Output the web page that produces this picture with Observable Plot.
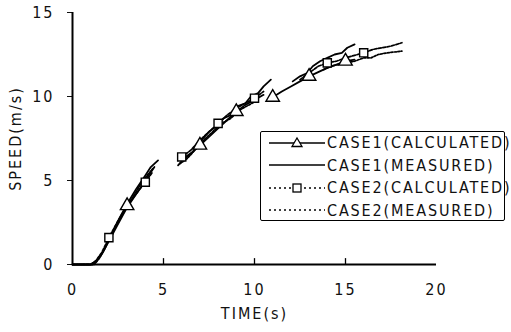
<!DOCTYPE html>
<html><head><meta charset="utf-8">
<script src="https://cdn.jsdelivr.net/npm/d3@7"></script>
<script src="https://cdn.jsdelivr.net/npm/@observablehq/plot@0.6"></script>
<style>
body{margin:0;background:#fff;}
#wrap{position:relative;width:511px;height:332px;}
#wrap svg text{letter-spacing:2px;font-stretch:condensed;}
.f{font-family:"DejaVu Sans Condensed","Liberation Sans Narrow","DejaVu Sans",sans-serif;font-stretch:condensed;}
#legend{position:absolute;left:260px;top:131px;width:245px;height:90px;border:1.5px solid #000;border-radius:2px;background:#fff;box-sizing:border-box;}
#legend .row{position:absolute;left:6px;height:22px;display:flex;align-items:center;font-size:16px;letter-spacing:1.85px;color:#111;}
</style></head>
<body><div id="wrap"></div>
<script>
const xTicks = [0, 5, 10, 15, 20];
const yTicks = [0, 5, 10, 15];
const seriesNames = ["CASE1(CALCULATED)", "CASE1(MEASURED)", "CASE2(CALCULATED)", "CASE2(MEASURED)"];

// [time s, speed m/s, segment]
const case1Calc = [
  [0,0,1],[1,0,1],[1.3,0.2,1],[1.6,0.6,1],[2,1.4,1],[2.5,2.4,1],[3,3.4,1],[3.5,4.2,1],[4,5.0,1],[4.5,5.8,1],
  [6,6.1,2],[6.5,6.6,2],[7,7.1,2],[7.5,7.6,2],[8,8.1,2],[8.5,8.6,2],[9,9.1,2],[9.5,9.5,2],[10,9.8,2],[10.5,10.1,2],
  [11,9.95,3],[11.5,10.3,3],[12,10.6,3],[12.5,10.9,3],[13,11.2,3],[13.5,11.45,3],[14,11.7,3],[14.5,11.9,3],[15,12.1,3],[15.5,12.2,3]
];
const case1Calc_markers = [[3,3.5],[7,7.1],[9,9.1],[11,9.95],[13,11.2],[15,12.1]];

const case1Meas = [
  [0,0,1],[1.1,0,1],[1.4,0.3,1],[1.7,0.8,1],[2,1.5,1],[2.5,2.6,1],[3,3.6,1],[3.5,4.5,1],[4,5.3,1],[4.3,5.8,1],[4.7,6.2,1],
  [5.8,5.9,2],[6.2,6.4,2],[6.6,6.7,2],[7,7.3,2],[7.5,7.9,2],[8,8.3,2],[8.3,8.7,2],[8.7,8.9,2],[9,9.4,2],[9.5,9.6,2],[9.8,10.0,2],[10.2,10.2,2],[10.5,10.6,2],[10.9,11.0,2],
  [12.1,10.9,3],[12.5,11.2,3],[12.9,11.4,3],[13.2,11.8,3],[13.6,12.1,3],[14,12.3,3],[14.4,12.5,3],[14.8,12.6,3],[15.1,12.9,3],[15.5,13.1,3]
];

const case2Calc = [
  [0,0,1],[1,0,1],[1.3,0.25,1],[1.6,0.7,1],[2,1.6,1],[2.5,2.6,1],[3,3.5,1],[3.5,4.2,1],[4,4.9,1],[4.4,5.5,1],
  [6,6.4,2],[6.5,6.8,2],[7,7.4,2],[7.5,7.9,2],[8,8.4,2],[8.5,8.9,2],[9,9.3,2],[9.5,9.6,2],[10,9.9,2],[10.5,10.3,2],
  [12.5,11.0,3],[13,11.4,3],[13.5,11.8,3],[14,12.0,3],[14.5,12.1,3],[15,12.3,3],[15.5,12.45,3],[16,12.6,3],[16.5,12.8,3],[17,12.9,3],[17.5,13.0,3],[18.1,13.2,3]
];
const case2Calc_markers = [[2,1.6],[4,4.9],[6,6.4],[8,8.4],[10,9.9],[14,12.0],[16,12.6]];

const case2Meas = [
  [0,0,1],[1.2,0,1],[1.5,0.4,1],[1.8,1.0,1],[2.2,1.9,1],[2.7,2.9,1],[3.2,3.8,1],[3.7,4.7,1],[4.1,5.3,1],[4.4,5.7,1],
  [5.9,6.0,2],[6.3,6.3,2],[6.8,6.9,2],[7.2,7.4,2],[7.7,7.9,2],[8.2,8.4,2],[8.7,8.7,2],[9.2,9.2,2],[9.7,9.5,2],[10.2,9.8,2],
  [13.8,11.6,3],[14.2,11.8,3],[14.6,11.9,3],[15,12.0,3],[15.5,12.1,3],[16,12.3,3],[16.4,12.3,3],[16.8,12.5,3],[17.3,12.6,3],[18.1,12.7,3]
];

const toObj = (arr, name) => arr.map(([t, v, s]) => ({t, v, s, name}));
const c1c = toObj(case1Calc, seriesNames[0]);
const c1m = toObj(case1Meas, seriesNames[1]);
const c2c = toObj(case2Calc, seriesNames[2]);
const c2m = toObj(case2Meas, seriesNames[3]);
const m1 = case1Calc_markers.map(([t, v]) => ({t, v}));
const m2 = case2Calc_markers.map(([t, v]) => ({t, v}));

const font = '"DejaVu Sans Condensed","Liberation Sans Narrow","DejaVu Sans",sans-serif';

const chart = Plot.plot({
  width: 511, height: 332,
  marginLeft: 72, marginRight: 75, marginTop: 12, marginBottom: 68,
  style: {fontFamily: font, fontSize: "16px", color: "#111", background: "#fff"},
  x: {domain: [0, 20]},
  y: {domain: [0, 15]},
  marks: [
    Plot.axisX({ticks: xTicks, tickSize: 0, tickPadding: 19, tickFormat: d => String(d),
      label: "TIME(s)", labelAnchor: "center", labelArrow: "none", labelOffset: 54,
      fontSize: 16}),
    Plot.axisY({ticks: yTicks, tickSize: 5, tickPadding: 13, tickFormat: d => String(d),
      label: "SPEED(m/s)", labelAnchor: "center", labelArrow: "none", labelOffset: 63,
      fontSize: 16}),
    Plot.ruleX(xTicks.slice(1, 4), {y1: 0, y2: 0.35, stroke: "#000", strokeWidth: 1.3}),
    Plot.ruleY([0], {x1: 0, x2: 20, stroke: "#000", strokeWidth: 2}),
    Plot.ruleX([0], {y1: 0, y2: 15, stroke: "#000", strokeWidth: 2}),
    Plot.line(c2m, {x: "t", y: "v", z: "s", stroke: "#000", strokeWidth: 1.7, strokeDasharray: "2,1.5"}),
    Plot.line(c2c, {x: "t", y: "v", z: "s", stroke: "#000", strokeWidth: 1.7, strokeDasharray: "3,1.5"}),
    Plot.line(c1m, {x: "t", y: "v", z: "s", stroke: "#000", strokeWidth: 1.8}),
    Plot.line(c1c, {x: "t", y: "v", z: "s", stroke: "#000", strokeWidth: 1.8}),
    Plot.dot(m1, {x: "t", y: "v", symbol: "triangle", r: 5, fill: "#fff", stroke: "#000", strokeWidth: 1.4}),
    Plot.dot(m2, {x: "t", y: "v", symbol: "square", r: 4.6, fill: "#fff", stroke: "#000", strokeWidth: 1.4})
  ]
});
const wrap = document.getElementById("wrap");
wrap.appendChild(chart);

// legend overlay
const leg = document.createElement("div");
leg.id = "legend"; leg.className = "f";
const samples = [
  {dash: null, sym: "tri"},
  {dash: null, sym: null},
  {dash: "2,3", sym: "sq"},
  {dash: "2,3", sym: null}
];
seriesNames.forEach((name, i) => {
  const row = document.createElement("div");
  row.className = "row";
  row.style.top = (i * 22.5) - 0.5 + "px";
  const s = samples[i];
  let svg = `<svg width="60" height="22" style="flex:none"><line x1="2" y1="11" x2="58" y2="11" stroke="#000" stroke-width="1.5"${s.dash ? ` stroke-dasharray="${s.dash}"` : ""}/>`;
  if (s.sym === "tri") svg += `<path d="M30,6 L35,14.5 L25,14.5 Z" fill="#fff" stroke="#000" stroke-width="1.3"/>`;
  if (s.sym === "sq") svg += `<rect x="26" y="7" width="8" height="8" fill="#fff" stroke="#000" stroke-width="1.3"/>`;
  svg += `</svg>`;
  row.innerHTML = svg + `<span>${name}</span>`;
  leg.appendChild(row);
});
wrap.appendChild(leg);
</script></body></html>
